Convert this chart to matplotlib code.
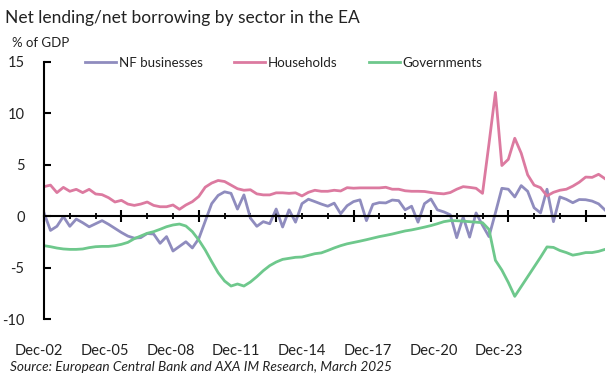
import matplotlib
matplotlib.use('Agg')
import matplotlib.pyplot as plt
from matplotlib.ticker import MultipleLocator

# Quarterly data, Q4 2002 to Q3 2024 (% of GDP)
nf_businesses = [
    0.3, -1.4, -1.0, -0.05, -1.0, -0.3, -0.65, -1.05, -0.75, -0.45,
    -0.8, -1.2, -1.6, -1.95, -2.15, -2.1, -1.7, -1.75, -2.65, -2.0,
    -3.4, -2.95, -2.5, -3.1, -2.2, -0.5, 1.2, 2.0, 2.35, 2.2,
    0.67, 2.05, -0.2, -1.0, -0.55, -0.75, 0.68, -1.07, 0.6, -0.6,
    1.2, 1.63, 1.4, 1.16, 0.95, 1.25, 0.22, 1.0, 1.4, 1.57,
    -0.45, 1.13, 1.3, 1.27, 1.55, 1.49, 0.6, 0.95, -0.6, 1.2,
    1.65, 0.6, 0.4, 0.12, -2.1, -0.1, -2.05, 0.3, -0.9, -2.0,
    0.3, 2.69, 2.6, 1.85, 2.95, 2.4, 0.8, 0.3, 2.6, -0.55,
    1.85, 1.62, 1.29, 1.6, 1.58, 1.45, 1.18, 0.58,
]
households = [
    2.85, 3.0, 2.27, 2.78, 2.4, 2.59, 2.27, 2.59, 2.14, 2.07,
    1.78, 1.36, 1.52, 1.16, 1.03, 1.16, 1.36, 1.03, 0.9, 0.9,
    1.07, 0.65, 1.07, 1.39, 1.9, 2.8, 3.2, 3.45, 3.35, 3.0,
    2.65, 2.5, 2.55, 2.15, 2.05, 2.05, 2.25, 2.25, 2.2, 2.25,
    1.95, 2.3, 2.5, 2.4, 2.4, 2.5, 2.43, 2.75, 2.7, 2.73,
    2.73, 2.73, 2.73, 2.79, 2.6, 2.6, 2.45, 2.4, 2.4, 2.38,
    2.28, 2.2, 2.15, 2.28, 2.6, 2.85, 2.78, 2.69, 2.2, 7.0,
    12.0, 4.9, 5.5, 7.55, 6.1, 4.0, 3.0, 2.75, 1.95, 2.3,
    2.5, 2.6, 2.9, 3.28, 3.78, 3.75, 4.05, 3.62,
]
governments = [
    -2.88, -2.98, -3.11, -3.2, -3.24, -3.24, -3.2, -3.07, -2.98, -2.95,
    -2.95, -2.88, -2.75, -2.56, -2.2, -1.94, -1.68, -1.52, -1.29, -1.04,
    -0.87, -0.78, -0.97, -1.52, -2.33, -3.3, -4.43, -5.5, -6.31, -6.8,
    -6.6, -6.8, -6.41, -5.89, -5.31, -4.82, -4.47, -4.21, -4.11, -4.01,
    -3.98, -3.82, -3.66, -3.58, -3.35, -3.1, -2.88, -2.7, -2.57, -2.44,
    -2.3, -2.15, -2.0, -1.88, -1.75, -1.6, -1.45, -1.35, -1.22, -1.08,
    -0.93, -0.75, -0.55, -0.45, -0.46, -0.5, -0.55, -0.6, -0.65, -1.3,
    -4.3, -5.25, -6.45, -7.8, -6.85, -5.9, -4.95, -4.0, -3.0, -3.05,
    -3.35, -3.55, -3.8, -3.69, -3.55, -3.55, -3.43, -3.24,
]
x_labels = ['Dec-02', 'Dec-05', 'Dec-08', 'Dec-11', 'Dec-14', 'Dec-17', 'Dec-20', 'Dec-23']
y_ticks = [-10, -5, 0, 5, 10, 15]

plt.rcParams['font.family'] = ['Lato', 'DejaVu Sans']
text_color = '#222222'

fig = plt.figure(figsize=(6.14, 3.79), dpi=100)
ax = fig.add_axes([0.0717, 0.1583, 0.9137, 0.6794])

quarters = range(len(households))
ax.plot(quarters, nf_businesses, color='#8f8cbe', lw=2.0, label='NF businesses')
ax.plot(quarters, households, color='#dc7aa0', lw=2.0, label='Households')
ax.plot(quarters, governments, color='#6ec88c', lw=2.0, label='Governments')

ax.set_xlim(0, len(households) - 1)
ax.set_ylim(-10, 15)

for side in ['top', 'right']:
    ax.spines[side].set_visible(False)
ax.spines['bottom'].set_position(('data', 0))
ax.spines['left'].set_linewidth(1.5)
ax.spines['bottom'].set_linewidth(1.5)

# yearly ticks on the zero line, longer ones every three years
ax.xaxis.set_major_locator(MultipleLocator(12))
ax.xaxis.set_minor_locator(MultipleLocator(4))
ax.tick_params(axis='x', which='major', direction='inout', length=8, width=1.5, labelbottom=False)
ax.tick_params(axis='x', which='minor', direction='inout', length=5, width=1.3)

ax.set_yticks(y_ticks)
ax.set_yticklabels([str(v) for v in y_ticks])
ax.tick_params(axis='y', direction='in', length=5, width=1.5, pad=14, labelsize=10.5,
               labelcolor=text_color)

# date labels under the plot, spaced as in the original chart
for k, lab in enumerate(x_labels):
    ax.text(-0.8 + 10.2 * k, -0.125, lab, transform=ax.get_xaxis_transform(),
            ha='center', va='center', fontsize=10.5, color=text_color)

fig.text(0.008, 0.952, 'Net lending/net borrowing by sector in the EA', fontsize=12.5,
         va='center', ha='left', color=text_color)
fig.text(0.02, 0.887, '% of GDP', fontsize=9.5, va='center', ha='left', color=text_color)
fig.text(0.016, 0.032, 'Source: European Central Bank and AXA IM Research, March 2025',
         fontsize=9.8, style='italic', va='center', ha='left', color=text_color)

ax.legend(loc='center left', bbox_to_anchor=(0.128, 0.834), bbox_transform=fig.transFigure,
          ncol=3, frameon=False, fontsize=9.6, handlelength=2.3, handletextpad=0.2,
          columnspacing=2.4, borderpad=0, labelcolor=text_color)

plt.savefig('out.png', dpi=100)
